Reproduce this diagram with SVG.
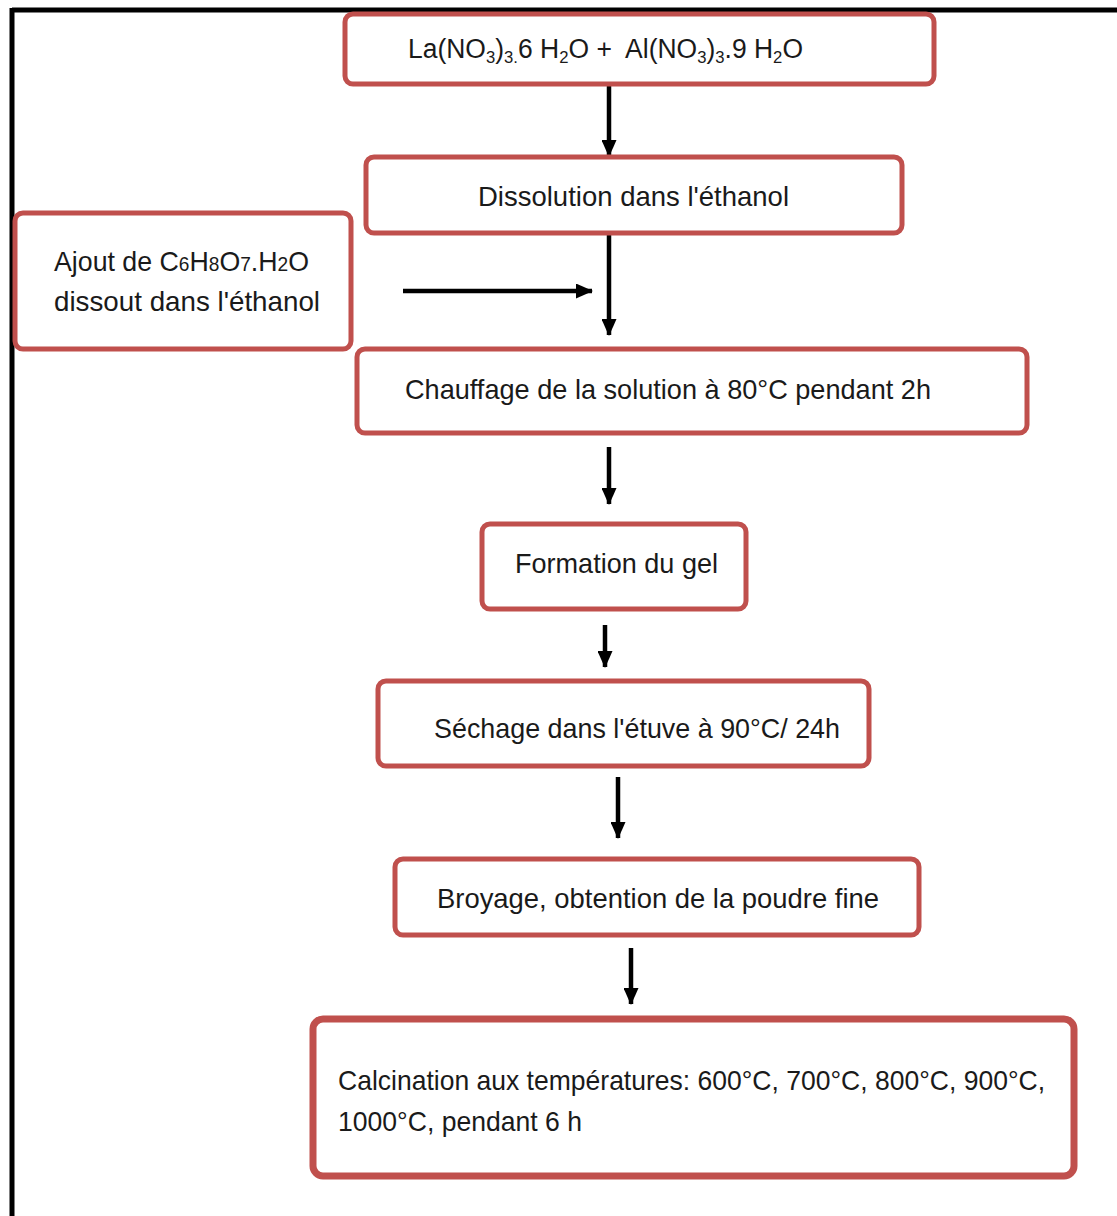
<svg xmlns="http://www.w3.org/2000/svg" width="1117" height="1216" viewBox="0 0 1117 1216">
<defs>
<marker id="ah2" markerWidth="17" markerHeight="15" refX="16" refY="7.5" orient="auto" markerUnits="userSpaceOnUse" viewBox="0 0 17 15">
<path d="M0,0 L17,7.5 L0,15 z" fill="#000"/>
</marker>
</defs>
<style>
.box{fill:#fff;stroke:#C0504D;stroke-width:5}
.t{font-family:"Liberation Sans",Arial,sans-serif;font-size:28px;fill:#1a1a1a}
.c{stroke:#000;stroke-width:4.5;fill:none;marker-end:url(#ah2)}
</style>
<rect width="1117" height="1216" fill="#fff"/>
<g id="frame">
<line x1="12" y1="10" x2="1117" y2="10" stroke="#000" stroke-width="5"/>
<line x1="12" y1="8" x2="12" y2="1216" stroke="#000" stroke-width="5"/>
</g>
<g id="connectors">
<line class="c" x1="609" y1="86" x2="609" y2="156"/>
<line class="c" x1="609" y1="234" x2="609" y2="335"/>
<line class="c" x1="403" y1="291" x2="592" y2="291"/>
<line class="c" x1="609" y1="447" x2="609" y2="504"/>
<line class="c" x1="605" y1="625" x2="605" y2="667"/>
<line class="c" x1="618" y1="777" x2="618" y2="838"/>
<line class="c" x1="631" y1="948" x2="631" y2="1004"/>
</g>
<g id="n1">
<rect class="box" x="345" y="14" width="589" height="70" rx="8"/>
<text class="t" x="408" y="58" textLength="395" lengthAdjust="spacingAndGlyphs" style="font-size:27px">La(NO<tspan font-size="17" dy="5">3</tspan><tspan dy="-5">)</tspan><tspan font-size="17" dy="5">3.</tspan><tspan dy="-5">6 H</tspan><tspan font-size="17" dy="5">2</tspan><tspan dy="-5">O +&#160; Al(NO</tspan><tspan font-size="17" dy="5">3</tspan><tspan dy="-5">)</tspan><tspan font-size="17" dy="5">3</tspan><tspan dy="-5">.9 H</tspan><tspan font-size="17" dy="5">2</tspan><tspan dy="-5">O</tspan></text>
</g>
<g id="n2">
<rect class="box" x="366" y="157" width="536" height="76" rx="8"/>
<text class="t" x="478" y="206" textLength="311" lengthAdjust="spacingAndGlyphs">Dissolution dans l'éthanol</text>
</g>
<g id="n3">
<rect class="box" x="15" y="213" width="336" height="136" rx="8"/>
<text class="t" x="54" y="271" textLength="255" lengthAdjust="spacingAndGlyphs">Ajout de C<tspan font-size="20">6</tspan>H<tspan font-size="20">8</tspan>O<tspan font-size="20">7</tspan>.H<tspan font-size="20">2</tspan>O</text>
<text class="t" x="54" y="311" textLength="266" lengthAdjust="spacingAndGlyphs">dissout dans l'éthanol</text>
</g>
<g id="n4">
<rect class="box" x="357" y="349" width="670" height="84" rx="8"/>
<text class="t" x="405" y="399" textLength="526" lengthAdjust="spacingAndGlyphs">Chauffage de la solution à 80°C pendant 2h</text>
</g>
<g id="n5">
<rect class="box" x="482" y="524" width="264" height="85" rx="8"/>
<text class="t" x="515" y="573" textLength="203" lengthAdjust="spacingAndGlyphs">Formation du gel</text>
</g>
<g id="n6">
<rect class="box" x="378" y="681" width="491" height="85" rx="8"/>
<text class="t" x="434" y="738" textLength="406" lengthAdjust="spacingAndGlyphs">Séchage dans l'étuve à 90°C/ 24h</text>
</g>
<g id="n7">
<rect class="box" x="395" y="859" width="524" height="76" rx="8"/>
<text class="t" x="437" y="908" textLength="442" lengthAdjust="spacingAndGlyphs">Broyage, obtention de la poudre fine</text>
</g>
<g id="n8">
<rect class="box" x="313" y="1019" width="761" height="157" rx="10" style="stroke-width:7"/>
<text class="t" x="338" y="1090" textLength="707" lengthAdjust="spacingAndGlyphs">Calcination aux températures: 600°C, 700°C, 800°C, 900°C,</text>
<text class="t" x="338" y="1131" textLength="244" lengthAdjust="spacingAndGlyphs">1000°C, pendant 6 h</text>
</g>
</svg>
